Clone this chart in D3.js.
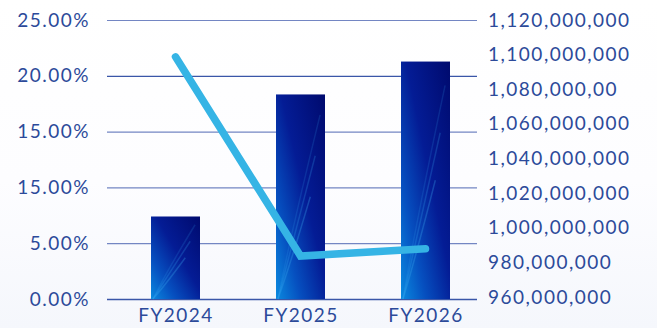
<!DOCTYPE html>
<html>
<head>
<meta charset="utf-8">
<script src="https://cdn.jsdelivr.net/npm/d3@7"></script>
<style>
  html, body { margin: 0; padding: 0; background: #fff; }
  svg { display: block; }
  text { font-family: "Lato", "Noto Sans", sans-serif; fill: #2c4a9a; }
</style>
</head>
<body>
<svg id="drawing_region"></svg>
<script>
const years = ["FY2024", "FY2025", "FY2026"];
const revenue = [1006500000, 1077000000, 1096000000];
const growth = [21.7, 3.85, 4.5];
const leftTicks = [0, 5, 10, 15, 20, 25];
const leftLabels = ["0.00%", "5.00%", "15.00%", "15.00%", "20.00%", "25.00%"];
const rightTicks = [960, 980, 1000, 1020, 1040, 1060, 1080, 1100, 1120].map(d => d * 1e6);
const rightLabels = ["960,000,000", "980,000,000", "1,000,000,000", "1,020,000,000", "1,040,000,000",
                     "1,060,000,000", "1,080,000,00", "1,100,000,000", "1,120,000,000"];

const W = 657, H = 328;
const svg = d3.select('#drawing_region').attr('width', W).attr('height', H);

// background wash
const defs = svg.append('defs');
const bg = defs.append('linearGradient').attr('id', 'bg').attr('x1', 0).attr('y1', 0).attr('x2', 0).attr('y2', 1);
bg.append('stop').attr('offset', '0%').attr('stop-color', '#ffffff');
bg.append('stop').attr('offset', '55%').attr('stop-color', '#fdfdff');
bg.append('stop').attr('offset', '100%').attr('stop-color', '#f5f7fc');
svg.append('rect').attr('width', W).attr('height', H).attr('fill', 'url(#bg)');

const barGrad = defs.append('linearGradient').attr('id', 'bar')
    .attr('x1', 1).attr('y1', 0).attr('x2', 0).attr('y2', 1);
barGrad.append('stop').attr('offset', '0%').attr('stop-color', '#000a6e');
barGrad.append('stop').attr('offset', '45%').attr('stop-color', '#041c95');
barGrad.append('stop').attr('offset', '75%').attr('stop-color', '#0650c0');
barGrad.append('stop').attr('offset', '100%').attr('stop-color', '#0a8ae0');

const gridL = 107, gridR = 477;
const y0 = 299, yTop = 20;
const barW = 49;

const yLeft = d3.scaleLinear().domain([0, 25]).range([y0, yTop]);
const yRight = d3.scaleLinear().domain([960e6, 1120e6]).range([297, yTop]);
const x = d3.scalePoint().domain(years).range([175.5, 425.5]);

const fontStyle = sel => sel.style('font-size', '19px')
    .style('letter-spacing', '1.5px')
    .style('fill', '#2c4a9a');

// grid lines
svg.append('g').selectAll('line')
    .data(leftTicks)
    .join('line')
    .attr('x1', gridL).attr('x2', gridR)
    .attr('y1', d => yLeft(d) + 0.5).attr('y2', d => yLeft(d) + 0.5)
    .attr('stroke', (d, i) => i === 0 || i === 4 ? '#3a56a8' : '#7386c3')
    .attr('stroke-width', (d, i) => i === 0 ? 1.5 : 1.2);

// left axis
const leftAxis = d3.axisLeft(yLeft).tickValues(leftTicks)
    .tickFormat((d, i) => leftLabels[i]).tickSize(0).tickPadding(0);
svg.append('g').attr('transform', `translate(90,0)`).call(leftAxis)
    .call(g => g.select('.domain').remove())
    .selectAll('text').call(fontStyle);

// right axis
const rightAxis = d3.axisRight(yRight).tickValues(rightTicks)
    .tickFormat((d, i) => rightLabels[i]).tickSize(0).tickPadding(0);
svg.append('g').attr('transform', `translate(488,0)`).call(rightAxis)
    .call(g => g.select('.domain').remove())
    .selectAll('text').call(fontStyle);

// x axis
const xAxis = d3.axisBottom(x).tickSize(0).tickPadding(0);
svg.append('g').attr('transform', `translate(0,${y0 + 9})`).call(xAxis)
    .call(g => g.select('.domain').remove())
    .selectAll('text').call(fontStyle);

// bars
const bars = svg.append('g').selectAll('g')
    .data(years.map((d, i) => ({ year: d, value: revenue[i] })))
    .join('g');
bars.append('rect')
    .attr('x', d => x(d.year) - barW / 2)
    .attr('y', d => yRight(d.value))
    .attr('width', barW)
    .attr('height', d => y0 - yRight(d.value))
    .attr('fill', 'url(#bar)');
// soft light streaks inside each bar
bars.each(function (d) {
    const g = d3.select(this);
    const bx = x(d.year) - barW / 2, by = yRight(d.value);
    const bh = y0 - by;
    [0.5, 0.7, 0.9].forEach((k, j) => {
        const p = d3.path();
        p.moveTo(bx + barW * 0.04, y0);
        p.quadraticCurveTo(bx + barW * 0.3, y0 - bh * 0.35 * k, bx + barW * (0.7 + j * 0.1), Math.max(by, y0 - bh * k));
        g.append('path').attr('d', p.toString())
            .attr('fill', 'none')
            .attr('stroke', '#3aa8f0')
            .attr('stroke-opacity', 0.3 - j * 0.07)
            .attr('stroke-width', 1.5);
    });
});

// growth line
const line = d3.line()
    .x((d, i) => x(years[i]))
    .y(d => yLeft(d));
svg.append('path')
    .datum(growth)
    .attr('d', line)
    .attr('fill', 'none')
    .attr('stroke', '#35b4e5')
    .attr('stroke-width', 7.5)
    .attr('stroke-linecap', 'round')
    .attr('stroke-linejoin', 'miter');
</script>
</body>
</html>
